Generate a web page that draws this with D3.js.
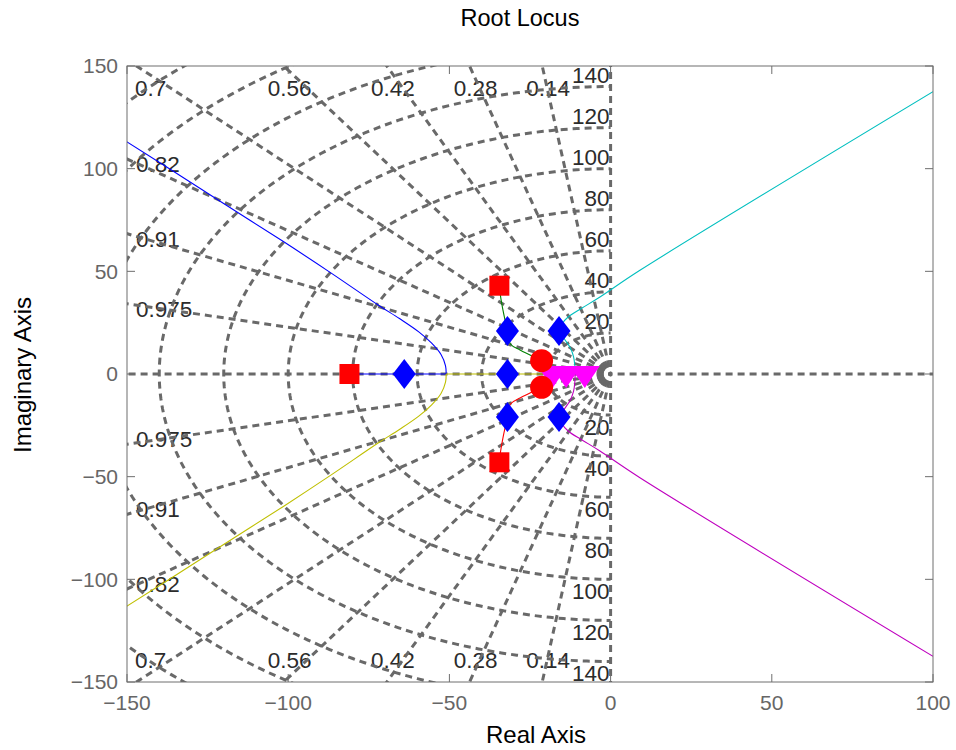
<!DOCTYPE html>
<html>
<head>
<meta charset="utf-8">
<script src="https://cdn.jsdelivr.net/npm/d3@7"></script>
<style>
  body { margin: 0; background: #fff; }
  text { font-family: "Liberation Sans", Arial, sans-serif; }
</style>
</head>
<body>
<svg id="chart" width="956" height="750"></svg>
<script>
// grid values (damping ratio rays and natural frequency circles)
const zetaValues = [0.14, 0.28, 0.42, 0.56, 0.7, 0.82, 0.91, 0.975];
const zetaLabels = ['0.14', '0.28', '0.42', '0.56', '0.7', '0.82', '0.91', '0.975'];
const wnValues = [20, 40, 60, 80, 100, 120, 140, 160, 180, 200];
const wnLabels = [20, 40, 60, 80, 100, 120, 140];

const xTicks = [-150, -100, -50, 0, 50, 100];
const yTicks = [-150, -100, -50, 0, 50, 100, 150];

// markers
const olPoles = [[-81, 0], [-34.5, 43], [-34.5, -43]];
const olZeros = [[-21.4, 6.5], [-21.4, -6.5]];
const clPoles = [[-64, 0], [-32, 21], [-32, 0], [-32, -21], [-16, 21], [-16, -21]];
const ctrlPoles = [[-18, 0], [-13.8, 0], [-8, 0]];

// locus branches: a straight real-axis part, then the curved part
const blueReal = [[-81, 0], [-51, 0]];
const blueArc = [[-51, 0], [-51.2, 4], [-52.6, 9.5], [-55.5, 15], [-59.5, 20.5], [-65.5, 27], [-72, 33.5],
  [-87, 49.5], [-101.5, 64.5], [-121, 84], [-136.6, 99.7], [-150, 113], [-160, 123]];
const yellowReal = [[-18, 0], [-51, 0]];
const yellowArc = [[-51, 0], [-51.2, -4], [-52.6, -9.5], [-55.5, -15], [-59.5, -20.5], [-65.5, -27], [-72, -33.5],
  [-87, -49.5], [-101.5, -64.5], [-121, -84], [-136.6, -99.7], [-150, -113], [-160, -123]];
const greenArc = [[-34.5, 43], [-34.2, 38.5], [-33.4, 31.2], [-32, 21], [-31, 14.5], [-28.1, 11.7], [-25, 9.3], [-21.4, 6.5]];
const redArc = [[-34.5, -43], [-34.2, -38.5], [-33.4, -31.2], [-32, -21], [-31, -14.5], [-28.1, -11.7], [-25, -9.3], [-21.4, -6.5]];
const cyanReal = [[-8, 0], [-11, 0]];
const cyanArc = [[-11, 0], [-11.1, 4], [-11.5, 8.5], [-12.6, 13], [-14.5, 17.5], [-15.6, 21], [-15, 24.5],
  [-13, 28], [-9, 32], [-3.3, 37.5], [9.1, 50.5], [100, 137.5]];
const magentaReal = [[-13.8, 0], [-11, 0]];
const magentaArc = [[-11, 0], [-11.1, -4], [-11.5, -8.5], [-12.6, -13], [-14.5, -17.5], [-15.6, -21], [-15, -24.5],
  [-13, -28], [-9, -32], [-3.3, -37.5], [9.1, -50.5], [100, -137.5]];

const branches = [
  { real: blueReal, arc: blueArc, color: '#0000ff' },
  { real: [], arc: greenArc, color: '#008000' },
  { real: [], arc: redArc, color: '#ff0000' },
  { real: cyanReal, arc: cyanArc, color: '#00bfbf' },
  { real: magentaReal, arc: magentaArc, color: '#bf00bf' },
  { real: yellowReal, arc: yellowArc, color: '#bfbf00' },
];

const svg = d3.select('#chart');
const pL = 127, pR = 933, pT = 66, pB = 682;

const x = d3.scaleLinear().domain([-150, 100]).range([pL, pR]);
const y = d3.scaleLinear().domain([-150, 150]).range([pB, pT]);

svg.append('defs').append('clipPath').attr('id', 'plotClip')
  .append('rect').attr('x', pL).attr('y', pT).attr('width', pR - pL).attr('height', pB - pT);

const gridColor = '#696969';
const labelColor = '#2b2b2b';

// grid labels (drawn under the dashed lines)
const labels = svg.append('g').attr('font-size', 22.5).attr('fill', labelColor);

zetaValues.forEach((z, i) => {
  const s = Math.sqrt(1 - z * z);
  const xAtTop = -150 * z / s;
  [1, -1].forEach((sign) => {
    if (xAtTop >= -150) {
      const t = labels.append('text').text(zetaLabels[i]).attr('text-anchor', 'middle');
      const w = t.node().getComputedTextLength();
      let cx = x(xAtTop) + 6;
      if (cx - w / 2 < pL + 8) cx = pL + 8 + w / 2;
      t.attr('x', cx).attr('y', sign > 0 ? pT + 30 : pB - 14);
    } else {
      const yAtLeft = 150 * s / z;
      labels.append('text').text(zetaLabels[i])
        .attr('x', pL + 9)
        .attr('y', y(sign * yAtLeft) + sign * 5 + 8);
    }
  });
});

wnLabels.forEach((w) => {
  labels.append('text').text(w).attr('text-anchor', 'end')
    .attr('x', x(0) - 1).attr('y', y(w) - 4);
  labels.append('text').text(w).attr('text-anchor', 'end')
    .attr('x', x(0) - 1).attr('y', y(-w) + 20);
});

// dashed grid
const grid = svg.append('g').attr('clip-path', 'url(#plotClip)')
  .attr('fill', 'none').attr('stroke', gridColor).attr('stroke-width', 3)
  .attr('stroke-dasharray', '7,5').attr('stroke-dashoffset', 5);

const line = d3.line().x((d) => x(d[0])).y((d) => y(d[1]));

// rays from the origin
const rayLen = 400;
zetaValues.forEach((z) => {
  const s = Math.sqrt(1 - z * z);
  [1, -1].forEach((sign) => {
    grid.append('path').attr('d', line([[0, 0], [-z * rayLen, sign * s * rayLen]]));
  });
});
[[0, 1], [0, -1], [-1, 0], [1, 0]].forEach((d) => {
  grid.append('path').attr('d', line([[0, 0], [d[0] * rayLen, d[1] * rayLen]]));
});

// natural frequency semicircles
wnValues.forEach((r) => {
  const pts = d3.range(0, 181).map((k) => {
    const a = Math.PI / 2 + (k * Math.PI) / 180;
    return [r * Math.cos(a), r * Math.sin(a)];
  });
  grid.append('path').attr('d', line(pts));
});

// locus branches
const locus = svg.append('g').attr('clip-path', 'url(#plotClip)').attr('fill', 'none').attr('stroke-width', 1.1);
const curve = d3.line().x((d) => x(d[0])).y((d) => y(d[1])).curve(d3.curveCatmullRom.alpha(0.5));
branches.forEach((b) => {
  if (b.real.length) locus.append('path').attr('d', line(b.real)).attr('stroke', b.color);
  locus.append('path').attr('d', curve(b.arc)).attr('stroke', b.color);
});

// markers
const marks = svg.append('g');
marks.selectAll('rect.pole').data(olPoles).enter().append('rect')
  .attr('x', (d) => x(d[0]) - 10).attr('y', (d) => y(d[1]) - 10)
  .attr('width', 20).attr('height', 20).attr('fill', '#ff0000');

marks.selectAll('path.cl').data(clPoles).enter().append('path')
  .attr('d', (d) => {
    const cx = x(d[0]), cy = y(d[1]);
    return `M${cx},${cy - 15}L${cx + 11.5},${cy}L${cx},${cy + 15}L${cx - 11.5},${cy}Z`;
  })
  .attr('fill', '#0000ff');

marks.selectAll('path.ctrl').data(ctrlPoles).enter().append('path')
  .attr('d', (d) => {
    const cx = x(d[0]), cy = y(d[1]);
    return `M${cx - 15},${cy - 8}L${cx + 15},${cy - 8}L${cx},${cy + 14}Z`;
  })
  .attr('fill', '#ff00ff');

marks.selectAll('circle.zero').data(olZeros).enter().append('circle')
  .attr('cx', (d) => x(d[0])).attr('cy', (d) => y(d[1])).attr('r', 11.5)
  .attr('fill', '#ff0000');

// axes box and ticks
const axisColor = '#6e6e6e';
svg.append('rect').attr('x', pL).attr('y', pT).attr('width', pR - pL).attr('height', pB - pT)
  .attr('fill', 'none').attr('stroke', axisColor).attr('stroke-width', 1);

const ticks = svg.append('g').attr('stroke', axisColor).attr('stroke-width', 1);
xTicks.forEach((t) => {
  ticks.append('line').attr('x1', x(t)).attr('x2', x(t)).attr('y1', pB).attr('y2', pB - 8);
  ticks.append('line').attr('x1', x(t)).attr('x2', x(t)).attr('y1', pT).attr('y2', pT + 8);
});
yTicks.forEach((t) => {
  ticks.append('line').attr('x1', pL).attr('x2', pL + 8).attr('y1', y(t)).attr('y2', y(t));
  ticks.append('line').attr('x1', pR).attr('x2', pR - 8).attr('y1', y(t)).attr('y2', y(t));
});

const fmt = (v) => (v < 0 ? '\u2212' + Math.abs(v) : String(v));
const tickText = svg.append('g').attr('font-size', 21).attr('fill', '#666666');
xTicks.forEach((t) => {
  tickText.append('text').text(fmt(t)).attr('x', x(t)).attr('y', pB + 28).attr('text-anchor', 'middle');
});
yTicks.forEach((t) => {
  tickText.append('text').text(fmt(t)).attr('x', pL - 9).attr('y', y(t)).attr('dy', '0.35em').attr('text-anchor', 'end');
});

// titles
svg.append('text').text('Root Locus').attr('x', 520).attr('y', 26).attr('text-anchor', 'middle')
  .attr('font-size', 23.5).attr('fill', '#000');
svg.append('text').text('Real Axis').attr('x', 536).attr('y', 743).attr('text-anchor', 'middle')
  .attr('font-size', 24).attr('fill', '#000');
svg.append('text').text('Imaginary Axis').attr('transform', 'translate(31,375) rotate(-90)')
  .attr('text-anchor', 'middle').attr('font-size', 24).attr('fill', '#000');
</script>
</body>
</html>
